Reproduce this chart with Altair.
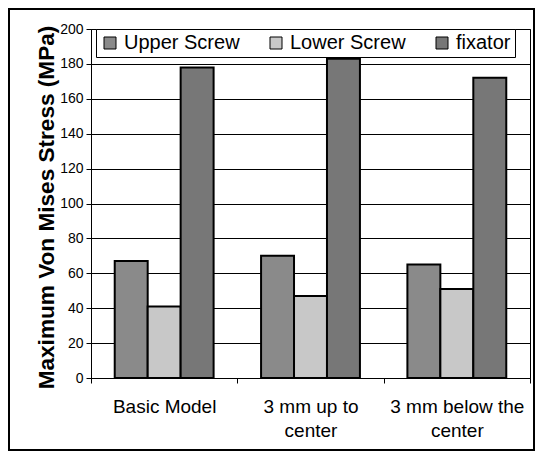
import altair as alt
import pandas as pd

# ---- data ----
groups = ["Basic Model", "3 mm up to\ncenter", "3 mm below the\ncenter"]
series = ["Upper Screw", "Lower Screw", "fixator"]
upper_screw = [67, 70, 65]
lower_screw = [41, 47, 51]
fixator = [178, 183, 172]
y_ticks = [0, 20, 40, 60, 80, 100, 120, 140, 160, 180, 200]
colors = ["#8a8a8a", "#c8c8c8", "#777777"]

rows = []
for s, vals in zip(series, [upper_screw, lower_screw, fixator]):
    for g, v in zip(groups, vals):
        rows.append({"group": g, "series": s, "value": v})
df = pd.DataFrame(rows)

FONT = "Liberation Sans"

bars = alt.Chart(df).mark_bar(stroke="black", strokeWidth=2).encode(
    x=alt.X(
        "group:N",
        sort=groups,
        scale=alt.Scale(paddingInner=0, paddingOuter=0),
        axis=alt.Axis(
            title=None,
            labelAngle=0,
            labelExpr="split(datum.label, '\\n')",
            tickBand="extent",
            domainColor="black",
            tickColor="black",
            tickSize=5,
            labelFont=FONT,
            labelFontSize=19,
            labelColor="black",
            labelPadding=14,
            labelLineHeight=24,
            grid=False,
        ),
    ),
    xOffset=alt.XOffset(
        "series:N", sort=series, scale=alt.Scale(paddingInner=0, paddingOuter=0.72)
    ),
    y=alt.Y(
        "value:Q",
        scale=alt.Scale(domain=[0, 200], nice=False),
        axis=alt.Axis(
            values=y_ticks,
            title="Maximum Von Mises Stress (MPa)",
            titleFont=FONT,
            titleFontSize=22.6,
            titleFontWeight="bold",
            titleColor="black",
            titleX=-45,
            titleY=178,
            titleAngle=270,
            titleAlign="center",
            titleBaseline="middle",
            grid=True,
            gridColor="black",
            gridWidth=1,
            domainColor="black",
            tickColor="black",
            tickSize=5,
            labelFont=FONT,
            labelFontSize=14,
            labelColor="black",
            labelPadding=3,
        ),
    ),
    color=alt.Color(
        "series:N",
        sort=series,
        scale=alt.Scale(domain=series, range=colors),
        legend=alt.Legend(
            title=None,
            orient="none",
            legendX=5,
            legendY=0,
            direction="horizontal",
            columns=3,
            symbolType="square",
            symbolSize=144,
            symbolStrokeColor="black",
            symbolStrokeWidth=1,
            symbolOpacity=1,
            labelFont=FONT,
            labelFontSize=20,
            labelColor="black",
            labelOffset=4,
            columnPadding=26,
            padding=4,
            strokeColor="black",
            fillColor="white",
        ),
    ),
)

border = alt.Chart(pd.DataFrame({"k": [0]})).mark_rect(
    fillOpacity=0, stroke="black", strokeWidth=2
).encode(
    x=alt.value(-82), x2=alt.value(443), y=alt.value(-20), y2=alt.value(421)
)

chart = (
    alt.layer(bars, border)
    .properties(
        width=439,
        height=349,
        autosize="none",
        padding={"left": 83, "top": 21, "right": 5, "bottom": 73},
        background="white",
    )
    .configure_view(stroke="black", strokeWidth=1)
)

chart.save("out.html", embed_options={"renderer": "svg", "actions": False})
